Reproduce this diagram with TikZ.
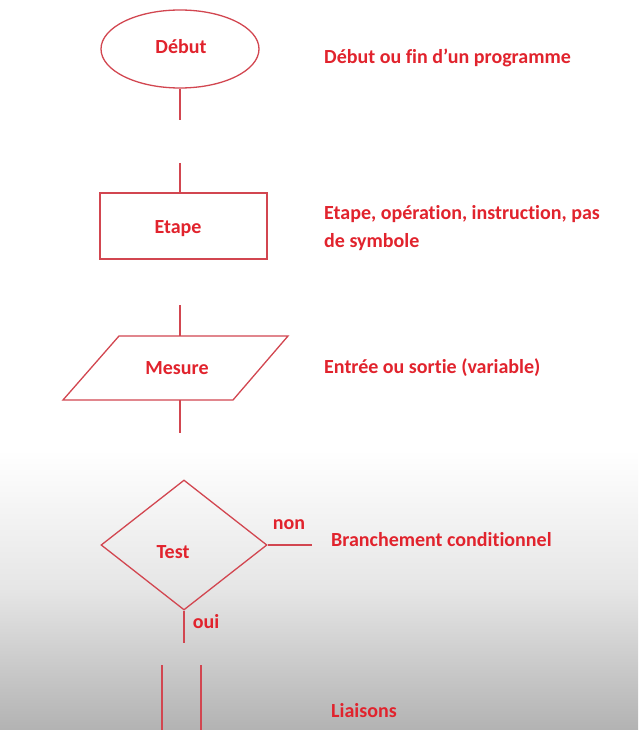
\documentclass[tikz,border=0pt]{standalone}
\usepackage{fontspec}
\setmainfont{Carlito}[RawFeature={-liga}]
\usetikzlibrary{shapes.geometric}
\definecolor{linered}{RGB}{210,70,80}
\definecolor{txtred}{RGB}{225,35,45}
\tikzset{
  shp/.style={draw=linered, line width=1.3pt, inner sep=0pt},
  lnk/.style={draw=linered, line width=1.3pt},
  lbl/.style={text=txtred, font=\fontsize{20}{28}\selectfont\bfseries, inner sep=0pt},
  desc/.style={lbl, anchor=west, align=left},
}
\begin{document}
\begin{tikzpicture}[x=1pt,y=-1pt]
\useasboundingbox (0,0) rectangle (638,730);
\fill[white] (0,0) rectangle (638,450);
\shade[top color=white, bottom color=black!30, middle color=black!10] (0,450) rectangle (638,730);

% Debut
\node[shp, ellipse, minimum width=158pt, minimum height=78pt] (start) at (180,49) {};
\node[lbl] (startt) at (181,47) {Début};
\coordinate (s1) at (180,120);
\draw[lnk] (start.south) -- (s1);
\coordinate (s2) at (180,163);

% Etape
\node[shp, rectangle, minimum width=167pt, minimum height=66pt] (step) at (183.5,226) {};
\node[lbl] (stept) at (178,229) {Etape};
\draw[lnk] (s2) -- (s2 |- step.north);
\coordinate (s3) at (180,305);

% Mesure (parallelogram)
\coordinate (p1) at (63,400);
\coordinate (p2) at (233,400);
\coordinate (p3) at (288,336);
\coordinate (p4) at (119,336);
\draw[shp] (p1) -- (p2) -- (p3) -- (p4) -- cycle;
\node[lbl] (mes) at (177,368) {Mesure};
\coordinate (p5) at (180,336);
\coordinate (p6) at (180,400);
\coordinate (s4) at (180,433);
\draw[lnk] (s3) -- (p5);
\draw[lnk] (p6) -- (s4);

% Test
\node[shp, diamond, minimum width=166pt, minimum height=130pt] (test) at (184,545) {};
\node[lbl] (testt) at (173,552) {Test};
\coordinate (nonend) at (312,545);
\coordinate (ouiend) at (184,643);
\draw[lnk] (test.east) -- (nonend);
\draw[lnk] (test.south) -- (ouiend);
\node[lbl] (non) at (289,525) {non};
\node[lbl] (oui) at (206,622) {oui};

% Liaisons
\coordinate (l1a) at (162,665);
\coordinate (l1b) at (162,730);
\coordinate (l2a) at (201,665);
\coordinate (l2b) at (201,730);
\draw[lnk] (l1a) -- (l1b);
\draw[lnk] (l2a) -- (l2b);

% descriptions
\node[desc] (d1) at (324,58) {Début ou fin d’un programme};
\node[desc] (d2) at (324,228) {Etape, opération, instruction, pas\\de symbole};
\node[desc] (d3) at (324,368) {Entrée ou sortie (variable)};
\node[desc] (d4) at (331,540) {Branchement conditionnel};
\node[desc] (d5) at (331,711) {Liaisons};
\end{tikzpicture}
\end{document}
